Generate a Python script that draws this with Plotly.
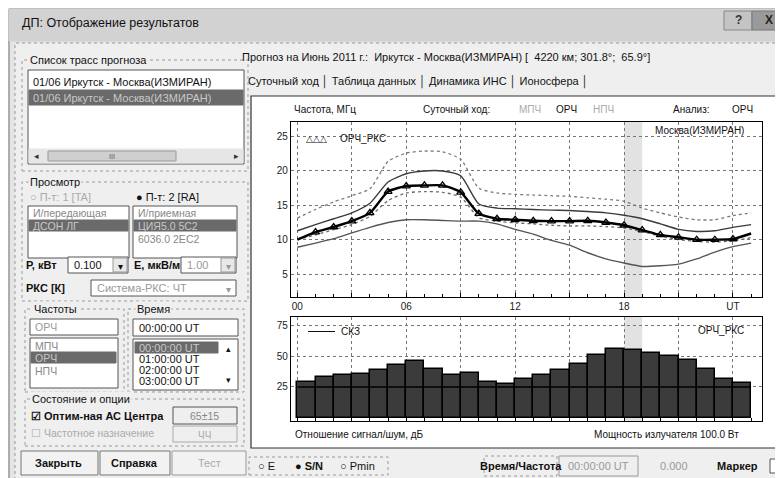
import plotly.graph_objects as go

W, H = 783, 478

# ---------------- data ----------------
hours = list(range(26))
orch_rks = [10.0, 11.1, 11.85, 12.7, 13.9, 17.0, 17.8, 17.9, 17.9, 16.9, 13.8, 13.05, 12.9,
            12.75, 12.7, 12.7, 12.75, 12.5, 12.1, 11.4, 10.7, 10.35, 10.0, 10.0, 10.1, 10.9]
upper_solid = [11.3, 12.2, 13.05, 13.9, 15.3, 18.4, 19.6, 20.0, 20.0, 19.3, 15.2, 14.6, 14.5,
               14.4, 14.3, 14.25, 14.1, 13.9, 13.55, 13.05, 12.3, 11.5, 11.2, 11.3, 11.8, 12.2]
mpch_dotted = [13.15, 14.4, 15.5, 16.4, 17.4, 21.4, 22.6, 22.9, 22.8, 21.7, 17.5, 16.8, 16.6,
               16.5, 16.4, 16.3, 16.1, 15.9, 15.6, 14.6, 13.9, 13.3, 12.9, 12.9, 13.5, 13.9]
lower_dotted = [10.0, 10.7, 11.45, 12.2, 13.4, 15.7, 16.8, 17.0, 16.9, 16.2, 13.2, 12.7, 12.45,
                12.3, 12.1, 12.0, 12.0, 11.9, 11.7, 11.2, 10.5, 10.0, 9.75, 9.65, 9.85, 10.3]
lower_solid = [8.9, 9.5, 10.15, 11.0, 11.8, 12.5, 12.9, 12.9, 12.8, 12.7, 12.7, 12.3, 11.5,
               10.8, 9.9, 9.2, 8.1, 7.2, 6.6, 6.1, 6.2, 6.45, 7.2, 8.2, 9.0, 9.5]
marker_hours = hours[1:25]
marker_vals = orch_rks[1:25]

bar_hours = list(range(25))
snr = [29.1, 32.9, 35.1, 35.7, 38.7, 42.8, 46.0, 39.2, 35.1, 36.2, 29.1, 27.5, 31.8,
       34.6, 38.9, 43.9, 50.7, 55.9, 55.1, 52.9, 50.4, 46.9, 39.2, 31.3, 28.3]
skz_level = 25
current_hour = 18

x_ticks = [0, 3, 6, 9, 12, 15, 18, 21, 24]
x_ticktext = ["00", "", "06", "", "12", "", "18", "", "UT"]
y1_ticks = [5, 10, 15, 20, 25]
y2_ticks = [25, 50, 75]

# ---------------- helpers ----------------
FONT = "Liberation Sans"
ann = []
shp = []


def px(x):
    return x / W


def py(y):
    return 1 - y / H


def text(x, y, s, size=11, color="#111", anchor="left", bold=False, family=FONT, bg=None):
    if bold:
        s = "<b>" + s + "</b>"
    d = dict(x=px(x), y=py(y), xref="paper", yref="paper", text=s, showarrow=False,
             xanchor=anchor, yanchor="middle", font=dict(size=size, color=color, family=family))
    if bg:
        d["bgcolor"] = bg
    ann.append(d)


def rect(x0, y0, x1, y1, fill="rgba(0,0,0,0)", line="#666", width=1, dash="solid"):
    shp.append(dict(type="rect", xref="paper", yref="paper", x0=px(x0), x1=px(x1),
                    y0=py(y1), y1=py(y0), fillcolor=fill,
                    line=dict(color=line, width=width, dash=dash), layer="below"))


def hline(x0, x1, y, color="#111", width=1):
    shp.append(dict(type="line", xref="paper", yref="paper", x0=px(x0), x1=px(x1),
                    y0=py(y), y1=py(y), line=dict(color=color, width=width)))


# ---------------- window chrome ----------------
rect(1, 1, 782, 477, fill="#e4e4e4", line="#777")
rect(1, 1, 782, 33, fill="#d2d2d2", line="#d2d2d2")
text(12, 15, "ДП: Отображение результатов", size=12.5)
rect(716, 3, 744, 22, fill="#c4c4c4", line="#888")
text(730, 12, "?", size=12, color="#333", anchor="center", bold=True)
rect(744, 3, 778, 22, fill="#9a9a9a", line="#777")
text(761, 12, "X", size=12, color="#222", anchor="center", bold=True)
rect(7, 35, 777, 473, fill="#efefef", line="#999", dash="dot")

# left column
rect(14, 52, 240, 163, line="#999", dash="dot")
text(20, 52, "Список трасс прогноза", size=11, bg="#efefef")
rect(20, 62, 236, 156, fill="#ffffff", line="#555")
text(23, 74, "01/06 Иркутск - Москва(ИЗМИРАН)", size=11)
rect(21, 82, 235, 97, fill="#6a6a6a", line="#6a6a6a")
text(23, 90, "01/06 Иркутск - Москва(ИЗМИРАН)", size=11, color="#c8c8c8")
rect(21, 141, 235, 155, fill="#e6e6e6", line="#e6e6e6")
rect(40, 143, 168, 153, fill="#cfcfcf", line="#999")
text(28, 148, "◂", size=9, color="#333", anchor="center")
text(228, 148, "▸", size=9, color="#333", anchor="center")
text(104, 148, "III", size=7, color="#555", anchor="center")

rect(14, 174, 240, 293, line="#999", dash="dot")
text(20, 174, "Просмотр", size=11, bg="#efefef")
text(20, 189, "○ П-т: 1 [TA]", size=11, color="#aaa")
text(126, 189, "● П-т: 2 [RA]", size=11, color="#111")
rect(20, 198, 121, 250, fill="#ffffff", line="#555")
text(23, 205, "И/передающая", size=10.5, color="#888")
rect(21, 212, 120, 223, fill="#6a6a6a", line="#6a6a6a")
text(23, 218, "ДСОН ЛГ", size=10.5, color="#c8c8c8")
rect(125, 198, 229, 250, fill="#ffffff", line="#555")
text(128, 205, "И/приемная", size=10.5, color="#888")
rect(126, 212, 228, 223, fill="#6a6a6a", line="#6a6a6a")
text(128, 218, "ЦИЯ5.0 5С2", size=10.5, color="#c8c8c8")
text(128, 231, "6036.0 2ЕС2", size=10.5, color="#888")

text(16, 257, "Р, кВт", size=11, bold=True)
rect(60, 249, 120, 265, fill="#ffffff", line="#555")
text(64, 257, "0.100", size=11)
rect(105, 250, 119, 264, fill="#e8e8e8", line="#999")
text(112, 258, "▾", size=10, anchor="center")
text(124, 257, "Е, мкВ/м", size=11, bold=True)
rect(173, 249, 228, 265, fill="#ffffff", line="#555")
text(177, 257, "1.00", size=11, color="#999")
rect(213, 250, 227, 264, fill="#e8e8e8", line="#999")
text(220, 258, "▾", size=10, anchor="center", color="#999")
text(16, 280, "РКС [К]", size=11, bold=True)
rect(83, 272, 228, 288, fill="#ffffff", line="#555")
text(87, 280, "Система-РКС: ЧТ", size=11, color="#999")
text(220, 281, "▾", size=10, anchor="center", color="#999")

rect(17, 301, 116, 384, line="#999", dash="dot")
text(24, 301, "Частоты", size=11, bg="#efefef")
rect(22, 311, 110, 327, fill="#ffffff", line="#555")
text(25, 319, "ОРЧ", size=10.5, color="#999")
rect(22, 330, 110, 380, fill="#ffffff", line="#555")
text(25, 338, "МПЧ", size=10.5, color="#888")
rect(23, 344, 108, 355, fill="#6a6a6a", line="#6a6a6a")
text(25, 350, "ОРЧ", size=10.5, color="#c8c8c8")
text(25, 363, "НПЧ", size=10.5, color="#888")

rect(120, 301, 236, 384, line="#999", dash="dot")
text(127, 301, "Время", size=11, bg="#efefef")
rect(125, 311, 230, 328, fill="#ffffff", line="#555")
text(129, 320, "00:00:00 UT", size=11)
rect(125, 331, 230, 382, fill="#ffffff", line="#555")
rect(127, 334, 210, 345, fill="#6a6a6a", line="#6a6a6a")
text(129, 340, "00:00:00 UT", size=11, color="#c8c8c8")
text(129, 351, "01:00:00 UT", size=11)
text(129, 362, "02:00:00 UT", size=11)
text(129, 373, "03:00:00 UT", size=11)
text(220, 341, "▴", size=9, anchor="center")
text(220, 372, "▾", size=9, anchor="center")

rect(17, 391, 236, 438, line="#999", dash="dot")
text(22, 391, "Состояние и опции", size=11, bg="#efefef")
text(21, 408, "☑ Оптим-ная АС Центра", size=11, bold=True)
rect(165, 399, 229, 416, fill="#efefef", line="#555")
text(197, 408, "65±15", size=10.5, color="#888", anchor="center")
text(21, 425, "☐ Частотное назначение", size=10.5, color="#aaa")
rect(165, 418, 229, 434, fill="#efefef", line="#aaa")
text(197, 427, "ЧЧ", size=10, color="#aaa", anchor="center")

rect(13, 443, 90, 467, fill="#f2f2f2", line="#777")
text(51, 455, "Закрыть", size=11, anchor="center", bold=True)
rect(92, 443, 162, 467, fill="#f2f2f2", line="#777")
text(127, 455, "Справка", size=11, anchor="center", bold=True)
rect(164, 443, 238, 467, fill="#f2f2f2", line="#999")
text(201, 455, "Тест", size=11, anchor="center", color="#aaa")

# right column headers
text(232, 49, "Прогноз на Июнь 2011 г.:  Иркутск - Москва(ИЗМИРАН) [  4220 км; 301.8°;  65.9°]", size=11)
text(238, 73, "Суточный ход │ Таблица данных │ Динамика ИНС │ Ионосфера │", size=11)

# chart panel
rect(243, 88, 771, 440, fill="#ffffff", line="#333", width=1.2)

# bottom bar
rect(241, 449, 380, 467, line="#999", dash="dot")
text(248, 458, "○ E", size=11)
text(285, 458, "● S/N", size=11, bold=True)
text(330, 458, "○ Pmin", size=11)
rect(476, 448, 549, 468, fill="#efefef", line="#999", dash="dot")
text(513, 458, "Время/Частота", size=11, anchor="center", bold=True)
rect(551, 448, 630, 468, fill="#efefef", line="#999")
text(590, 458, "00:00:00 UT", size=11, anchor="center", color="#999")
text(650, 458, "0.000", size=11, color="#999")
text(707, 458, "Маркер", size=11, bold=True)
rect(762, 451, 775, 465, fill="#ffffff", line="#555")

# ---------------- chart texts ----------------
CF = 10
text(284, 102, "Частота, МГц", size=CF)
text(413, 102, "Суточный ход:", size=CF)
text(509, 102, "МПЧ", size=CF, color="#aaa")
text(546, 102, "ОРЧ", size=CF)
text(583, 102, "НПЧ", size=CF, color="#aaa")
text(663, 102, "Анализ:", size=CF)
text(722, 102, "ОРЧ", size=CF)
text(296, 131, "△△△", size=9)
text(330, 131, "ОРЧ_РКС", size=CF)
text(738, 123, "Москва(ИЗМИРАН)", size=CF, anchor="right")
hline(300, 327, 323.5, color="#111", width=1)
text(331, 323, "СКЗ", size=CF)
text(738, 322, "ОРЧ_РКС", size=CF, anchor="right")
text(285, 426, "Отношение сигнал/шум, дБ", size=CF)
text(733, 426, "Мощность излучателя 100.0 Вт", size=CF, anchor="right")

# ---------------- figure ----------------
fig = go.Figure()

fig.add_trace(go.Scatter(x=hours, y=mpch_dotted, mode="lines", line=dict(color="#7a7a7a", width=1.3, dash="dot", shape="spline", smoothing=0.6), xaxis="x", yaxis="y"))
fig.add_trace(go.Scatter(x=hours, y=upper_solid, mode="lines", line=dict(color="#3a3a3a", width=1.4, shape="spline", smoothing=0.6), xaxis="x", yaxis="y"))
fig.add_trace(go.Scatter(x=hours, y=lower_dotted, mode="lines", line=dict(color="#6a6a6a", width=1.3, dash="dot", shape="spline", smoothing=0.6), xaxis="x", yaxis="y"))
fig.add_trace(go.Scatter(x=hours, y=lower_solid, mode="lines", line=dict(color="#555555", width=1.4, shape="spline", smoothing=0.6), xaxis="x", yaxis="y"))
fig.add_trace(go.Scatter(x=hours, y=orch_rks, mode="lines", line=dict(color="#000000", width=2.4, shape="spline", smoothing=0.6), xaxis="x", yaxis="y"))
fig.add_trace(go.Scatter(x=marker_hours, y=marker_vals, mode="markers",
                         marker=dict(symbol="triangle-up-open", size=7, color="#000", line=dict(width=1.3)),
                         xaxis="x", yaxis="y"))

fig.add_trace(go.Bar(x=bar_hours, y=snr, offset=0, width=1,
                     marker=dict(color="#3b3b3b", line=dict(color="#000", width=1.5)),
                     xaxis="x2", yaxis="y2"))
fig.add_trace(go.Scatter(x=[bar_hours[0], bar_hours[-1] + 1], y=[skz_level, skz_level], mode="lines",
                         line=dict(color="#000", width=1.5), xaxis="x2", yaxis="y2"))

# current-hour band
for xr, yr in (("x", "y domain"), ("x2", "y2 domain")):
    shp.append(dict(type="rect", xref=xr, yref=yr, x0=current_hour, x1=current_hour + 1, y0=0, y1=1,
                    fillcolor="rgba(150,150,150,0.28)", line=dict(width=0), layer="below"))

xd = [px(283), px(754)]
grid = dict(showgrid=True, gridcolor="#777", griddash="dot", gridwidth=1)
axline = dict(showline=True, linecolor="#000", linewidth=1.4, mirror=True, zeroline=False)
tickf = dict(size=10, color="#222", family=FONT)

fig.update_layout(
    width=W, height=H, margin=dict(l=0, r=0, t=0, b=0),
    paper_bgcolor="#e4e4e4", plot_bgcolor="rgba(0,0,0,0)", showlegend=False,
    annotations=ann, shapes=shp, bargap=0,
    xaxis=dict(domain=xd, anchor="y", range=[-0.35, 25.6], tickvals=x_ticks, ticktext=x_ticktext,
               ticks="inside", ticklen=4, tickcolor="#000", tickfont=tickf,
               minor=dict(dtick=1, tick0=0, ticks="inside", ticklen=3, tickcolor="#000", showgrid=False),
               **grid, **axline),
    yaxis=dict(domain=[py(289), py(114)], anchor="x", range=[1.66, 27.13], tickvals=y1_ticks,
               ticks="", tickfont=tickf, **grid, **axline),
    xaxis2=dict(domain=xd, anchor="y2", range=[-0.35, 25.6], tickvals=x_ticks, showticklabels=False,
                ticks="inside", ticklen=4, tickcolor="#000",
                minor=dict(dtick=1, tick0=0, ticks="inside", ticklen=3, tickcolor="#000", showgrid=False),
                **grid, **axline),
    yaxis2=dict(domain=[py(413), py(309)], anchor="x2", range=[-2.55, 81.7], tickvals=y2_ticks,
                ticks="", tickfont=tickf, **grid, **axline),
)

fig.write_html("out.html")
